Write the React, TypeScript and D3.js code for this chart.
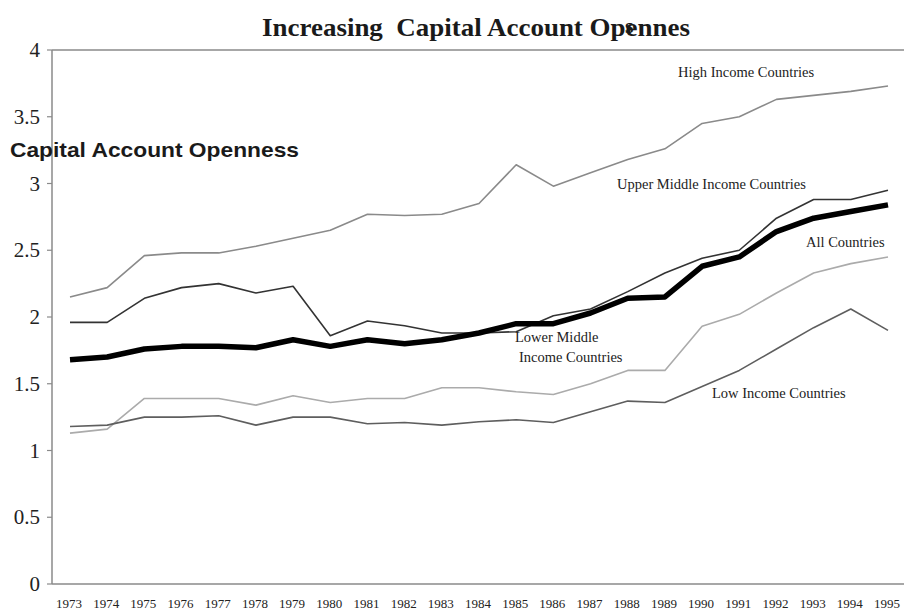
import * as d3 from "d3";

const years = d3.range(1973, 1996);
const yTicks = [0, 0.5, 1, 1.5, 2, 2.5, 3, 3.5, 4];

const highIncome = [2.15, 2.22, 2.46, 2.48, 2.48, 2.53, 2.59, 2.65, 2.77, 2.76, 2.77, 2.85, 3.14, 2.98, 3.08, 3.18, 3.26, 3.45, 3.5, 3.63, 3.66, 3.69, 3.73];
const upperMiddle = [1.96, 1.96, 2.14, 2.22, 2.25, 2.18, 2.23, 1.86, 1.97, 1.935, 1.88, 1.88, 1.89, 2.01, 2.06, 2.19, 2.33, 2.44, 2.5, 2.74, 2.88, 2.88, 2.95];
const allCountries = [1.68, 1.7, 1.76, 1.78, 1.78, 1.77, 1.83, 1.78, 1.83, 1.8, 1.83, 1.88, 1.95, 1.95, 2.03, 2.14, 2.15, 2.38, 2.45, 2.64, 2.74, 2.79, 2.84];
const lowerMiddle = [1.13, 1.16, 1.39, 1.39, 1.39, 1.34, 1.41, 1.36, 1.39, 1.39, 1.47, 1.47, 1.44, 1.42, 1.5, 1.6, 1.6, 1.93, 2.02, 2.18, 2.33, 2.4, 2.45];
const lowIncome = [1.18, 1.19, 1.25, 1.25, 1.26, 1.19, 1.25, 1.25, 1.2, 1.21, 1.19, 1.215, 1.23, 1.21, 1.29, 1.37, 1.36, 1.48, 1.6, 1.76, 1.92, 2.06, 1.9];

const series = [
  { name: "High Income Countries", values: highIncome, color: "#8a8a8a", width: 1.6 },
  { name: "Upper Middle Income Countries", values: upperMiddle, color: "#333333", width: 1.6 },
  { name: "Lower Middle Income Countries", values: lowerMiddle, color: "#ababab", width: 1.6 },
  { name: "Low Income Countries", values: lowIncome, color: "#5e5e5e", width: 1.6 },
  { name: "All Countries", values: allCountries, color: "#000000", width: 5.5 },
];

const serif = "'Liberation Serif', 'Times New Roman', serif";
const sans = "'Liberation Sans', Arial, sans-serif";

export default function App() {
  const width = 904;
  const height = 610;
  const axisX = 52;

  const x = d3.scaleLinear().domain([1973, 1995]).range([70, 888]);
  const y = d3.scaleLinear().domain([0, 4]).range([584, 50]);

  const line = d3
    .line<number>()
    .x((_, i) => x(years[i]))
    .y((d) => y(d));

  return (
    <svg
      width={width}
      height={height}
      style={{ position: "absolute", left: 0, top: 0, background: "#fff" }}
    >
      <text
        x={262}
        y={36}
        fontFamily={serif}
        fontWeight="bold"
        fontSize={25}
        textLength={428}
        lengthAdjust="spacingAndGlyphs"
        fill="#1a1a1a"
        style={{ whiteSpace: "pre" }}
      >
        {"Increasing  Capital Account Opennes"}
      </text>
      <text x={625} y={33} fontFamily={serif} fontWeight="bold" fontSize={22} fill="#1a1a1a">
        s
      </text>

      <line x1={axisX} x2={width} y1={y(4)} y2={y(4)} stroke="#8a8a8a" strokeWidth={1.5} />
      <line x1={axisX} x2={width} y1={y(0)} y2={y(0)} stroke="#8a8a8a" strokeWidth={1.5} />
      <line x1={axisX} x2={axisX} y1={y(4)} y2={y(0)} stroke="#8a8a8a" strokeWidth={1.5} />

      {yTicks.map((t) => (
        <g key={t}>
          <line x1={axisX - 5} x2={axisX} y1={y(t)} y2={y(t)} stroke="#8a8a8a" strokeWidth={1.2} />
          <text
            x={40}
            y={y(t) + 7}
            textAnchor="end"
            fontFamily={serif}
            fontSize={21}
            fill="#222"
          >
            {t}
          </text>
        </g>
      ))}

      {years.map((yr) => (
        <text
          key={yr}
          x={x(yr) - 1}
          y={608}
          textAnchor="middle"
          fontFamily={serif}
          fontSize={13}
          fill="#222"
        >
          {yr}
        </text>
      ))}

      {series.map((s) => (
        <path
          key={s.name}
          d={line(s.values) ?? ""}
          fill="none"
          stroke={s.color}
          strokeWidth={s.width}
          strokeLinejoin="round"
        />
      ))}

      <text
        x={10}
        y={157}
        fontFamily={sans}
        fontWeight="bold"
        fontSize={20.5}
        textLength={289}
        lengthAdjust="spacingAndGlyphs"
        fill="#1a1a1a"
      >
        Capital Account Openness
      </text>

      <g fontFamily={serif} fontSize={14.5} fill="#222">
        <text x={678} y={77}>High Income Countries</text>
        <text x={617} y={189}>Upper Middle Income Countries</text>
        <text x={806} y={247}>All Countries</text>
        <text x={515} y={342}>Lower Middle</text>
        <text x={519} y={362}>Income Countries</text>
        <text x={712} y={398}>Low Income Countries</text>
      </g>
    </svg>
  );
}
